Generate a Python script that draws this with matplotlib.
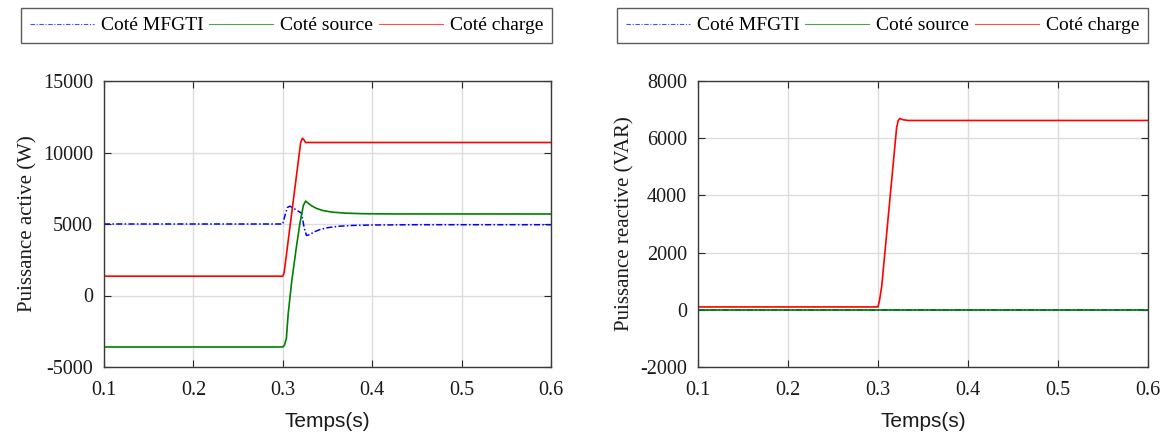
import matplotlib
matplotlib.use("Agg")
import matplotlib.pyplot as plt

t_mfgti_p = [0.1, 0.300, 0.302, 0.305, 0.308, 0.312, 0.316, 0.321, 0.324, 0.3265, 0.330, 0.335, 0.342, 0.350, 0.362, 0.378, 0.40, 0.45, 0.6]
p_mfgti = [5000, 5000, 5500, 6150, 6250, 6100, 5950, 5750, 4700, 4200, 4250, 4450, 4620, 4740, 4840, 4900, 4930, 4950, 4950]

t_source_p = [0.1, 0.300, 0.302, 0.304, 0.306, 0.310, 0.315, 0.319, 0.323, 0.3256, 0.328, 0.332, 0.338, 0.345, 0.355, 0.370, 0.390, 0.420, 0.6]
p_source = [-3600, -3600, -3450, -3000, -1300, 1000, 3300, 5000, 6300, 6600, 6480, 6280, 6080, 5940, 5830, 5760, 5720, 5705, 5700]

t_charge_p = [0.1, 0.300, 0.3015, 0.320, 0.3219, 0.3235, 0.3255, 0.329, 0.6]
p_charge = [1350, 1350, 1600, 10700, 11000, 10900, 10700, 10700, 10700]

# Puissance réactive (VAR)
t_mfgti_q = [0.1, 0.6]
q_mfgti = [0, 0]

t_source_q = [0.1, 0.6]
q_source = [0, 0]

t_charge_q = [0.1, 0.300, 0.3015, 0.3041, 0.3207, 0.3225, 0.3244, 0.327, 0.3333, 0.6]
q_charge = [100, 100, 300, 810, 6375, 6620, 6690, 6650, 6620, 6620]

labels = ["Coté MFGTI", "Coté source", "Coté charge"]

serif = ["Liberation Serif", "DejaVu Serif"]
sans = ["Liberation Sans", "DejaVu Sans"]
plt.rcParams["font.family"] = serif
plt.rcParams["font.size"] = 14

W, H = 1163, 432
fig = plt.figure(figsize=(W / 100, H / 100), dpi=100)

ax1 = fig.add_axes([104 / W, 1 - 367 / H, 447 / W, 286 / H])
ax2 = fig.add_axes([698 / W, 1 - 367 / H, 450 / W, 286 / H])


def style_axes(ax, ylim, yticks, ylabel):
    ax.set_xlim(0.1, 0.6)
    ax.set_ylim(*ylim)
    ax.set_xticks([0.1, 0.2, 0.3, 0.4, 0.5, 0.6])
    ax.set_xticklabels(["0.1", "0.2", "0.3", "0.4", "0.5", "0.6"])
    ax.set_yticks(yticks)
    ax.set_yticklabels([str(v) for v in yticks])
    ax.grid(True, color="#dcdcdc", linewidth=1.0)
    ax.set_axisbelow(True)
    ax.tick_params(direction="in", top=True, right=True, length=5,
                   width=0.8, colors="#262626", labelcolor="#1a1a1a",
                   labelsize=14.5)
    ax.tick_params(axis="x", pad=10)
    ax.tick_params(axis="y", pad=8)
    for sp in ax.spines.values():
        sp.set_color("#3a3a3a")
        sp.set_linewidth(1.0)
    ax.set_xlabel("Temps(s)", family=sans, fontsize=15, color="#1a1a1a", labelpad=9)
    ax.set_ylabel(ylabel, fontsize=15, color="#1a1a1a", labelpad=4)


def draw(ax, series, box):
    handles = []
    h, = ax.plot(series[0][0], series[0][1], color="#0000ff", linestyle=(0, (4, 1.5, 1, 1.5)), linewidth=1.1)
    handles.append(h)
    h, = ax.plot(series[1][0], series[1][1], color="#008000", linewidth=1.2)
    handles.append(h)
    h, = ax.plot(series[2][0], series[2][1], color="#ff0000", linewidth=1.2)
    handles.append(h)
    leg = fig.legend(handles, labels, loc="upper left", mode="expand", ncol=3,
                     bbox_to_anchor=box, bbox_transform=fig.transFigure,
                     frameon=True, fancybox=False, handlelength=3.3,
                     handletextpad=0.35, borderpad=0.45, borderaxespad=0,
                     fontsize=14)
    leg.get_frame().set_edgecolor("#333333")
    leg.get_frame().set_linewidth(1.0)
    for lh in leg.get_lines():
        lh.set_linewidth(0.8)
        lh.set_alpha(0.7)


draw(ax1, [(t_mfgti_p, p_mfgti), (t_source_p, p_source), (t_charge_p, p_charge)],
     (21 / W, 1 - 42 / H, 531 / W, 34 / H))
style_axes(ax1, (-5000, 15000), [-5000, 0, 5000, 10000, 15000], "Puissance active (W)")

draw(ax2, [(t_mfgti_q, q_mfgti), (t_source_q, q_source), (t_charge_q, q_charge)],
     (617 / W, 1 - 42 / H, 531 / W, 34 / H))
style_axes(ax2, (-2000, 8000), [-2000, 0, 2000, 4000, 6000, 8000], "Puissance reactive (VAR)")

fig.savefig("out.png", dpi=100)
